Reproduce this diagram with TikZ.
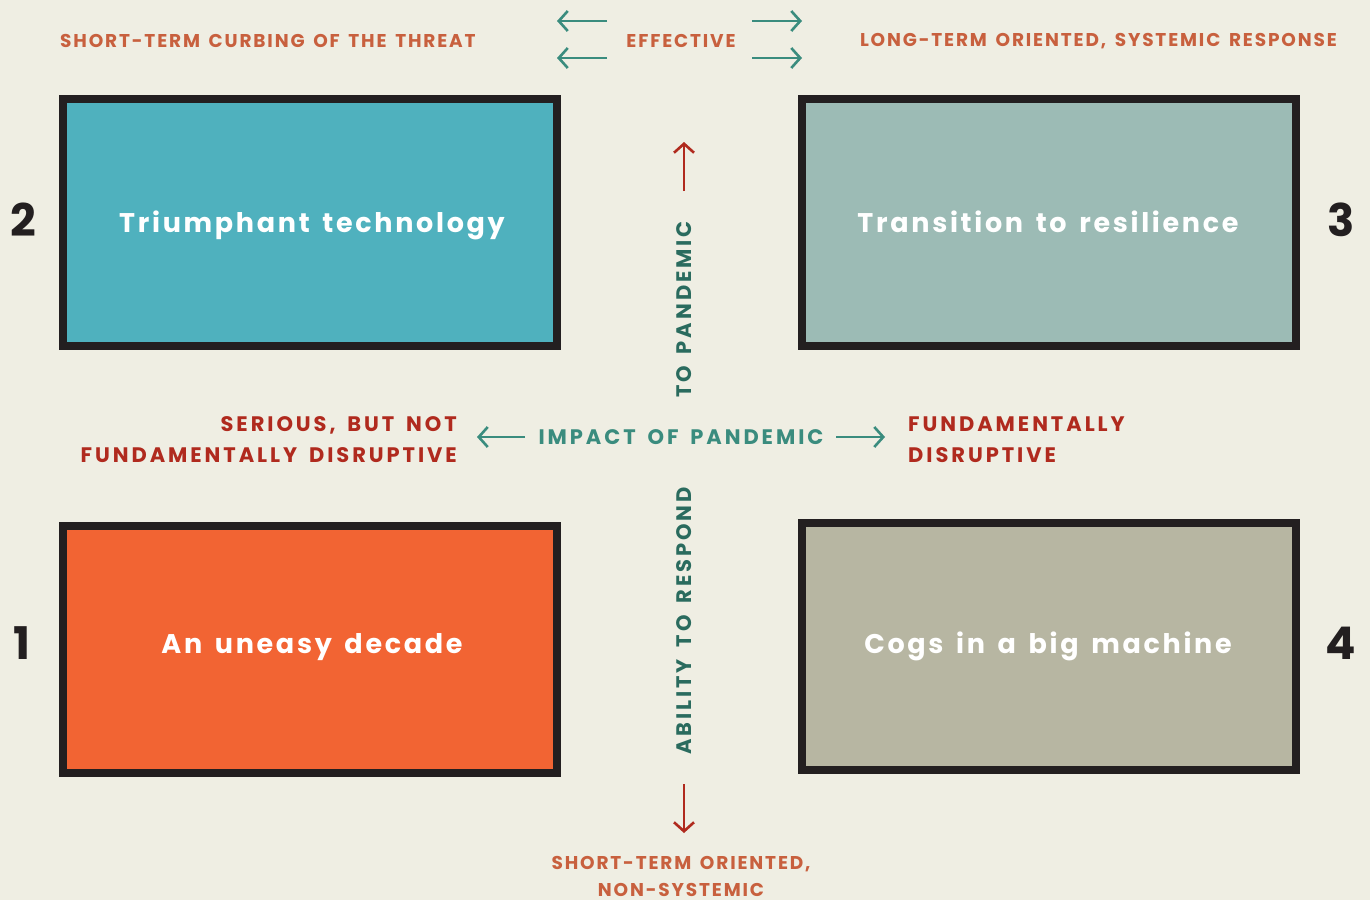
\documentclass[tikz,border=0pt]{standalone}
\usepackage{fontspec}
\setmainfont{Poppins}
\newfontfamily\trkA[LetterSpace=10,WordSpace=1.6]{Poppins}
\newfontfamily\trkB[LetterSpace=14,WordSpace=1.6]{Poppins}
\newfontfamily\lbl[LetterSpace=10,WordSpace=1.5]{Poppins}
\usetikzlibrary{arrows.meta}
\definecolor{bg}{HTML}{EFEEE3}
\definecolor{cteal}{HTML}{4FB1BE}
\definecolor{csage}{HTML}{9CBBB5}
\definecolor{corange}{HTML}{F26433}
\definecolor{cgray}{HTML}{B7B6A2}
\definecolor{cborder}{HTML}{231F20}
\definecolor{ctxtor}{HTML}{C8603E}
\definecolor{ctxtred}{HTML}{B02A1E}
\definecolor{carrow}{HTML}{3A8C7E}
\definecolor{cvert}{HTML}{2A6B5E}
\begin{document}
\begin{tikzpicture}[x=1pt,y=-1pt,
  box/.style={draw=cborder,line width=8pt,minimum width=494pt,minimum height=247pt,inner sep=0pt},
  boxlabel/.style={anchor=base,inner sep=0pt,text=white,font=\lbl\bfseries\fontsize{27}{30}\selectfont},
  num/.style={text=cborder,font=\bfseries\fontsize{45}{48}\selectfont,inner sep=0pt},
  captext/.style={font=\trkA\bfseries\fontsize{18.5}{21}\selectfont,inner sep=0pt},
  orng/.style={captext,text=ctxtor},
  redt/.style={captext,text=ctxtred,font=\trkB\bfseries\fontsize{21}{31}\selectfont},
  axis/.style={captext,font=\trkB\bfseries\fontsize{21}{24}\selectfont},
  tarr/.style={draw=carrow,line width=2.6pt,-{Straight Barb[length=9pt,width=20pt]}},
  rarr/.style={draw=ctxtred,line width=2.6pt,-{Straight Barb[length=9pt,width=20pt]}},
]
\fill[bg] (0,0) rectangle (1370,900);
\useasboundingbox (0,0) rectangle (1370,900);

% boxes
\node[box,fill=cteal] (b2) at (310,222.5) {};
\node[box,fill=csage] (b3) at (1048.5,222.5) {};
\node[box,fill=corange] (b1) at (310,649.5) {};
\node[box,fill=cgray] (b4) at (1048.5,646) {};
\node[boxlabel] (t2) at (312,232) {Triumphant technology};
\node[boxlabel] (t3) at (1048,232) {Transition to resilience};
\node[boxlabel] (t1) at (312,653.3) {An uneasy decade};
\node[boxlabel] (t4) at (1048,653.3) {Cogs in a big machine};

% numbers
\node[num] (n2) at (23,220) {2};
\node[num] (n3) at (1341,220) {3};
\node[num] (n1) at (22,643) {1};
\node[num] (n4) at (1341,643) {4};

% top labels
\node[orng,anchor=west] (tl) at (60,41) {SHORT-TERM CURBING OF THE THREAT};
\node[orng] (eff) at (681,41) {EFFECTIVE};
\node[orng,anchor=east] (tr) at (1337,41) {LONG-TERM ORIENTED, SYSTEMIC RESPONSE};
\coordinate (al1s) at (607,21); \coordinate (al1e) at (557,21);
\coordinate (al2s) at (607,58); \coordinate (al2e) at (557,58);
\coordinate (ar1s) at (752,21); \coordinate (ar1e) at (802,21);
\coordinate (ar2s) at (752,58); \coordinate (ar2e) at (802,58);
\draw[tarr] (al1s) -- (al1e);
\draw[tarr] (al2s) -- (al2e);
\draw[tarr] (ar1s) -- (ar1e);
\draw[tarr] (ar2s) -- (ar2e);

% centre
\node[axis,text=carrow] (imp) at (681,437) {IMPACT OF PANDEMIC};
\coordinate (cl) at (477,437); \coordinate (cr) at (885,437);
\coordinate (cls) at (525,437); \coordinate (crs) at (836,437);
\draw[tarr] (cls) -- (cl);
\draw[tarr] (crs) -- (cr);
\node[redt,anchor=east,align=right] (sl) at (457,440) {SERIOUS, BUT NOT\\FUNDAMENTALLY DISRUPTIVE};
\node[redt,anchor=west,align=left] (sr) at (908,440) {FUNDAMENTALLY\\DISRUPTIVE};

% vertical axis
\node[axis,text=cvert,rotate=90,anchor=west] (tp) at (684,398) {TO PANDEMIC};
\node[axis,text=cvert,rotate=90,anchor=west] (ab) at (684,755) {ABILITY TO RESPOND};
\coordinate (up) at (684,142); \coordinate (dn) at (684,833);
\coordinate (ups) at (684,191); \coordinate (dns) at (684,784);
\draw[rarr] (ups) -- (up);
\draw[rarr] (dns) -- (dn);
\node[orng,align=center,font=\trkA\bfseries\fontsize{18.5}{27}\selectfont] (bt) at (681,876) {SHORT-TERM ORIENTED,\\NON-SYSTEMIC};
\end{tikzpicture}
\end{document}
